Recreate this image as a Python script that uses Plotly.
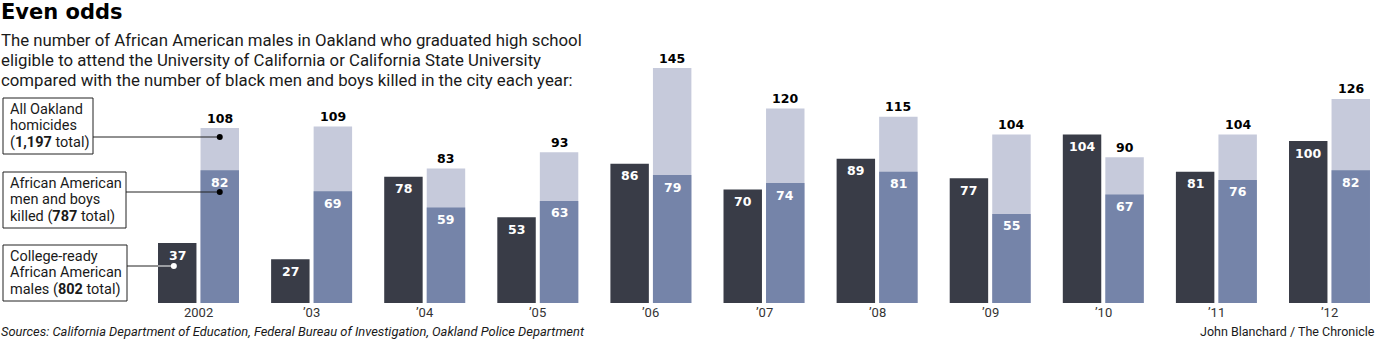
import plotly.graph_objects as go

# ---------------- data ----------------
years = ["2002", "’03", "’04", "’05", "’06", "’07", "’08", "’09", "’10", "’11", "’12"]
college_ready = [37, 27, 78, 53, 86, 70, 89, 77, 104, 81, 100]
aa_killed = [82, 69, 59, 63, 79, 74, 81, 55, 67, 76, 82]
all_homicides = [108, 109, 83, 93, 145, 120, 115, 104, 90, 104, 126]

# ---------------- layout constants ----------------
W, H = 1381, 344
M_T, M_B = 60, 41
PLOT_H = H - M_T - M_B
STEP = 113.1          # px per category
X0_PX = 198.5         # px of first category centre
X_MIN = -X0_PX / STEP
X_MAX = (W - X0_PX) / STEP
Y_MAX = 150
OFF = 0.188           # half distance between paired bars (data units)
BW = 0.34             # bar width (data units)

DARK = "#393c47"
BLUE = "#7584a9"
LIGHT = "#c6cadb"
TXT = "#1a1a1a"

NUM_FONT = "DejaVu Sans"
TEXT_FONT = "Roboto"


def px_x(px):
    return px / W


def px_y(py):
    return (H - M_B - py) / PLOT_H


def data_x_to_px(x):
    return (x - X_MIN) / (X_MAX - X_MIN) * W


xs = list(range(len(years)))
x_dark = [x - OFF for x in xs]
x_pair = [x + OFF for x in xs]

fig = go.Figure()
fig.add_trace(go.Bar(x=x_dark, y=college_ready, width=BW, marker=dict(color=DARK, line=dict(width=0)),
                     name="College-ready", hoverinfo="y"))
fig.add_trace(go.Bar(x=x_pair, y=all_homicides, width=BW, marker=dict(color=LIGHT, line=dict(width=0)),
                     name="All homicides", hoverinfo="y"))
fig.add_trace(go.Bar(x=x_pair, y=aa_killed, width=BW, marker=dict(color=BLUE, line=dict(width=0)),
                     name="AA killed", hoverinfo="y"))

ann = []
shapes = []

# value labels
for i in xs:
    ann.append(dict(x=x_dark[i], y=college_ready[i], xref="x", yref="y", text=f"<b>{college_ready[i]}</b>",
                    showarrow=False, yshift=-12, yanchor="middle",
                    font=dict(family=NUM_FONT, size=12.5, color="white")))
    ann.append(dict(x=x_pair[i], y=aa_killed[i], xref="x", yref="y", text=f"<b>{aa_killed[i]}</b>",
                    showarrow=False, yshift=-12, yanchor="middle",
                    font=dict(family=NUM_FONT, size=12.5, color="white")))
    ann.append(dict(x=x_pair[i], y=all_homicides[i], xref="x", yref="y", text=f"<b>{all_homicides[i]}</b>",
                    showarrow=False, yshift=10, yanchor="middle",
                    font=dict(family=NUM_FONT, size=12.5, color="black")))
    ann.append(dict(x=xs[i], y=px_y(312), xref="x", yref="paper", text=years[i], showarrow=False,
                    yanchor="middle", font=dict(family=TEXT_FONT, size=13, color="#333")))

# title & subtitle
ann.append(dict(x=0, y=px_y(12), xref="paper", yref="paper", xanchor="left", yanchor="middle",
                text="<b>Even odds</b>", showarrow=False, xshift=-1,
                font=dict(family=NUM_FONT, size=21, color="black")))
sub = ["The number of African American males in Oakland who graduated high school",
       "eligible to attend the University of California or California State University",
       "compared with the number of black men and boys killed in the city each year:"]
for k, line in enumerate(sub):
    ann.append(dict(x=0, y=px_y(40 + 20 * k), xref="paper", yref="paper", xanchor="left", yanchor="middle",
                    text=line, showarrow=False, xshift=-1,
                    font=dict(family=TEXT_FONT, size=16.8, color=TXT)))

# footer
ann.append(dict(x=0, y=px_y(331), xref="paper", yref="paper", xanchor="left", yanchor="middle",
                text="<i>Sources: California Department of Education, Federal Bureau of Investigation, Oakland Police Department</i>",
                showarrow=False, xshift=-1, font=dict(family=TEXT_FONT, size=12.9, color=TXT)))
ann.append(dict(x=px_x(1377), y=px_y(331), xref="paper", yref="paper", xanchor="right", yanchor="middle",
                text="John Blanchard / The Chronicle", showarrow=False,
                font=dict(family=TEXT_FONT, size=12.5, color=TXT)))

# legend boxes
boxes = [
    dict(x0=3, x1=93, y0=98, y1=154, lines=["All Oakland", "homicides", "(<b>1,197</b> total)"],
         line_y=137, target=(0 + OFF), dot_white=False),
    dict(x0=3, x1=126, y0=172, y1=228, lines=["African American", "men and boys", "killed (<b>787</b> total)"],
         line_y=192, target=(0 + OFF), dot_white=False),
    dict(x0=3, x1=127, y0=245, y1=301, lines=["College-ready", "African American", "males (<b>802</b> total)"],
         line_y=266, target=(0 - OFF - 0.03), dot_white=True),
]
for b in boxes:
    shapes.append(dict(type="rect", xref="paper", yref="paper", x0=px_x(b["x0"]), x1=px_x(b["x1"]),
                       y0=px_y(b["y1"]), y1=px_y(b["y0"]), line=dict(color="#222", width=1),
                       fillcolor="white", layer="above"))
    for k, t in enumerate(b["lines"]):
        ann.append(dict(x=px_x(b["x0"] + 5), y=px_y(b["y0"] + 11 + 16.5 * k), xref="paper", yref="paper",
                        xanchor="left", yanchor="middle", text=t, showarrow=False,
                        font=dict(family=TEXT_FONT, size=14.5, color=TXT)))
    dot_px = data_x_to_px(b["target"])
    ly = px_y(b["line_y"])
    if b["dot_white"]:
        edge_px = data_x_to_px(0 - OFF - BW / 2)
        shapes.append(dict(type="line", xref="paper", yref="paper", x0=px_x(b["x1"]), x1=px_x(edge_px),
                           y0=ly, y1=ly, line=dict(color="#222", width=1), layer="above"))
        shapes.append(dict(type="line", xref="paper", yref="paper", x0=px_x(edge_px), x1=px_x(dot_px),
                           y0=ly, y1=ly, line=dict(color="white", width=1), layer="above"))
        col = "white"
    else:
        shapes.append(dict(type="line", xref="paper", yref="paper", x0=px_x(b["x1"]), x1=px_x(dot_px),
                           y0=ly, y1=ly, line=dict(color="#222", width=1), layer="above"))
        col = "black"
    r = 3
    shapes.append(dict(type="circle", xref="paper", yref="paper", x0=px_x(dot_px - r), x1=px_x(dot_px + r),
                       y0=px_y(b["line_y"] + r), y1=px_y(b["line_y"] - r), line=dict(width=0),
                       fillcolor=col, layer="above"))

fig.update_layout(
    width=W, height=H,
    margin=dict(l=0, r=0, t=M_T, b=M_B, pad=0),
    barmode="overlay",
    showlegend=False,
    plot_bgcolor="white", paper_bgcolor="white",
    xaxis=dict(range=[X_MIN, X_MAX], showgrid=False, zeroline=False, showticklabels=False, ticks="",
               fixedrange=True),
    yaxis=dict(range=[0, Y_MAX], showgrid=False, zeroline=False, showticklabels=False, ticks="",
               fixedrange=True),
    annotations=ann,
    shapes=shapes,
)

fig.write_html("out.html", config={"displayModeBar": False})
